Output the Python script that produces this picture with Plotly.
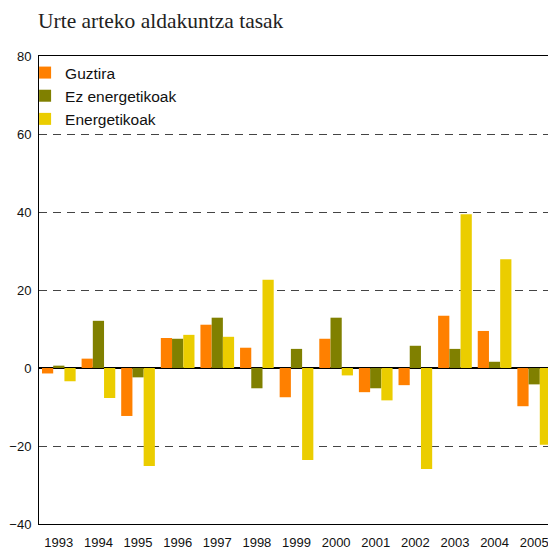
import plotly.graph_objects as go

years = ["1993", "1994", "1995", "1996", "1997", "1998", "1999",
         "2000", "2001", "2002", "2003", "2004", "2005"]
guztira = [-1.4, 2.4, -12.3, 7.7, 11.1, 5.2, -7.5, 7.5, -6.2, -4.4, 13.4, 9.5, -9.8]
ez_energetikoak = [0.6, 12.1, -2.4, 7.5, 12.9, -5.2, 4.9, 12.9, -5.2, 5.7, 4.9, 1.6, -4.2]
energetikoak = [-3.4, -7.7, -25.1, 8.5, 8.0, 22.6, -23.6, -1.9, -8.3, -25.9, 39.4, 27.9, -19.7]

names = ["Guztira", "Ez energetikoak", "Energetikoak"]
colors = ["#FF8000", "#808000", "#EBCD00"]
series = [guztira, ez_energetikoak, energetikoak]

fig = go.Figure()
for n, c, v in zip(names, colors, series):
    fig.add_trace(go.Bar(x=years, y=v, name=n, marker=dict(color=c, line=dict(width=0))))

W, H = 548, 543
fig.update_layout(
    width=W, height=H,
    margin=dict(l=30, r=1, t=48, b=26),
    paper_bgcolor="white", plot_bgcolor="white",
    barmode="group", bargap=0.15, bargroupgap=0,
    showlegend=True,
    legend=dict(x=-0.027, y=1.0, xanchor="left", yanchor="top",
                bgcolor="rgba(0,0,0,0)", font=dict(family="Liberation Sans, Arial", size=15.5, color="#111"),
                itemwidth=30, tracegroupgap=0),
    font=dict(family="Liberation Sans, Arial", size=12, color="#111"),
    title=dict(text="Urte arteko aldakuntza tasak", x=30/W, xanchor="left", y=1 - 12/H, yanchor="middle",
               font=dict(family="Liberation Serif, Times New Roman, serif", size=21.5, color="#222")),
)
fig.update_xaxes(showline=True, mirror=True, linecolor="black", linewidth=1,
                 showgrid=False, ticks="", ticklabelstandoff=6, tickfont=dict(size=13, color="#111"))
fig.update_yaxes(range=[-40, 80], dtick=20, showline=True, mirror=True, linecolor="black", linewidth=1,
                 showgrid=True, gridcolor="#444", griddash="8px,6px", gridwidth=1,
                 zeroline=True, zerolinecolor="black", zerolinewidth=1.5,
                 ticks="", ticklabelstandoff=4, tickfont=dict(size=13, color="#111"))

fig.write_html("out.html")
